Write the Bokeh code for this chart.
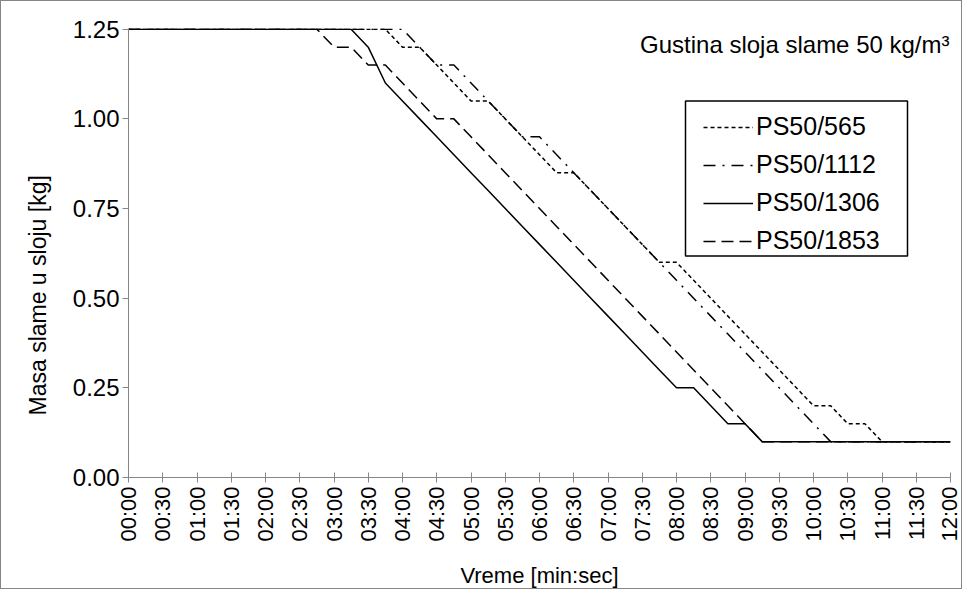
import math
from bokeh.plotting import figure
from bokeh.models import (FixedTicker, Legend, LegendItem, Label, NumeralTickFormatter,
                          Range1d, Title, BoxAnnotation)
from bokeh.embed import file_html
from bokeh.resources import INLINE

# time in seconds (every 15 s)
time_s = [0, 15, 30, 45, 60, 75, 90, 105, 120, 135, 150, 165, 180, 195, 210, 225,
          240, 255, 270, 285, 300, 315, 330, 345, 360, 375, 390, 405, 420, 435, 450,
          465, 480, 495, 510, 525, 540, 555, 570, 585, 600, 615, 630, 645, 660, 675,
          690, 705, 720]

ps50_565 = [1.25, 1.25, 1.25, 1.25, 1.25, 1.25, 1.25, 1.25, 1.25, 1.25, 1.25, 1.25,
            1.25, 1.25, 1.25, 1.25, 1.20, 1.20, 1.15, 1.10, 1.05, 1.05, 1.00, 0.95,
            0.90, 0.85, 0.85, 0.80, 0.75, 0.70, 0.65, 0.60, 0.60, 0.55, 0.50, 0.45,
            0.40, 0.35, 0.30, 0.25, 0.20, 0.20, 0.15, 0.15, 0.10, 0.10, 0.10, 0.10, 0.10]

ps50_1112 = [1.25, 1.25, 1.25, 1.25, 1.25, 1.25, 1.25, 1.25, 1.25, 1.25, 1.25, 1.25,
             1.25, 1.25, 1.25, 1.25, 1.25, 1.20, 1.15, 1.15, 1.10, 1.05, 1.00, 0.95,
             0.95, 0.90, 0.85, 0.80, 0.75, 0.70, 0.65, 0.60, 0.55, 0.50, 0.45, 0.40,
             0.35, 0.30, 0.25, 0.20, 0.15, 0.10, 0.10, 0.10, 0.10, 0.10, 0.10, 0.10, 0.10]

ps50_1306 = [1.25, 1.25, 1.25, 1.25, 1.25, 1.25, 1.25, 1.25, 1.25, 1.25, 1.25, 1.25,
             1.25, 1.25, 1.20, 1.10, 1.05, 1.00, 0.95, 0.90, 0.85, 0.80, 0.75, 0.70,
             0.65, 0.60, 0.55, 0.50, 0.45, 0.40, 0.35, 0.30, 0.25, 0.25, 0.20, 0.15,
             0.15, 0.10, 0.10, 0.10, 0.10, 0.10, 0.10, 0.10, 0.10, 0.10, 0.10, 0.10, 0.10]

ps50_1853 = [1.25, 1.25, 1.25, 1.25, 1.25, 1.25, 1.25, 1.25, 1.25, 1.25, 1.25, 1.25,
             1.20, 1.20, 1.15, 1.15, 1.10, 1.05, 1.00, 1.00, 0.95, 0.90, 0.85, 0.80,
             0.75, 0.70, 0.65, 0.60, 0.55, 0.50, 0.45, 0.40, 0.35, 0.30, 0.25, 0.20,
             0.15, 0.10, 0.10, 0.10, 0.10, 0.10, 0.10, 0.10, 0.10, 0.10, 0.10, 0.10, 0.10]

series_names = ["PS50/565", "PS50/1112", "PS50/1306", "PS50/1853"]

tick_seconds = [0, 30, 60, 90, 120, 150, 180, 210, 240, 270, 300, 330, 360, 390, 420,
                450, 480, 510, 540, 570, 600, 630, 660, 690, 720]
tick_labels = ["00:00", "00:30", "01:00", "01:30", "02:00", "02:30", "03:00", "03:30",
               "04:00", "04:30", "05:00", "05:30", "06:00", "06:30", "07:00", "07:30",
               "08:00", "08:30", "09:00", "09:30", "10:00", "10:30", "11:00", "11:30",
               "12:00"]
y_ticks = [0.0, 0.25, 0.50, 0.75, 1.00, 1.25]

title_text = "Gustina sloja slame 50 kg/m³"
x_title = "Vreme [min:sec]"
y_title = "Masa slame u sloju [kg]"

FONT = "Liberation Sans"
GRAY = "#868686"

p = figure(width=962, height=589, output_backend="svg", toolbar_location=None,
           x_range=Range1d(0, 720), y_range=Range1d(0, 1.252),
           min_border_left=127, min_border_right=13, min_border_top=27,
           min_border_bottom=113)
p.styles = {"border": "1px solid " + GRAY, "box-sizing": "border-box"}
p.xgrid.visible = False
p.ygrid.visible = False
p.outline_line_color = None
p.background_fill_color = "white"
p.border_fill_color = "white"

styles = [
    (ps50_565, "4 3"),
    (ps50_1112, "12 7 2 7"),
    (ps50_1306, "solid"),
    (ps50_1853, "12 6"),
]
renderers = []
for vals, dash in styles:
    r = p.line(time_s, vals, line_color="black", line_width=1.5, line_dash=dash)
    renderers.append(r)

# axes
p.xaxis.ticker = FixedTicker(ticks=tick_seconds)
p.xaxis.major_label_overrides = dict(zip(tick_seconds, tick_labels))
p.xaxis.major_label_orientation = math.pi / 2
p.yaxis.ticker = FixedTicker(ticks=y_ticks)
p.yaxis.formatter = NumeralTickFormatter(format="0.00")

for ax in (p.xaxis[0], p.yaxis[0]):
    ax.axis_line_color = GRAY
    ax.axis_line_width = 1
    ax.major_tick_line_color = GRAY
    ax.minor_tick_line_color = None
    ax.major_label_text_font = FONT
    ax.major_label_text_color = "black"
    ax.axis_label_text_font = FONT
    ax.axis_label_text_font_size = "22px"
    ax.axis_label_text_font_style = "normal"
    ax.axis_label_text_color = "black"

p.yaxis.major_label_text_font_size = "24px"
p.xaxis.major_label_text_font_size = "22px"

p.yaxis.major_tick_out = 6
p.yaxis.major_tick_in = 0
p.yaxis.major_label_standoff = 3

p.xaxis.major_tick_out = 5
p.xaxis.major_tick_in = 5
p.xaxis.major_label_standoff = 4
p.xaxis.axis_label = x_title
p.xaxis.axis_label_standoff = 18

# y-axis title (placed lower than the frame centre, as in the original)
p.add_layout(Title(text=y_title, align="left", offset=62, standoff=38,
                   text_font=FONT, text_font_size="23px", text_font_style="normal",
                   text_color="black"), "left")

# legend frame
p.add_layout(BoxAnnotation(left=557, right=779, bottom=221.6, top=376.6,
                           left_units="screen", right_units="screen",
                           bottom_units="screen", top_units="screen",
                           fill_color="white", fill_alpha=1,
                           line_color="black", line_width=1.5, line_alpha=1))

legend = Legend(
    items=[LegendItem(label=n, renderers=[r]) for n, r in zip(series_names, renderers)],
    location=(575, 221.6),
    border_line_color=None, background_fill_alpha=0,
    label_text_font=FONT, label_text_font_size="25px", label_text_color="black",
    glyph_width=50, glyph_height=28, label_height=28, spacing=9,
    padding=8, margin=0, label_standoff=3, label_width=130,
)
p.add_layout(legend)

p.add_layout(Label(x=720, y=1.25, text=title_text, text_align="right",
                   text_baseline="top", x_offset=-1, y_offset=-2,
                   text_font=FONT, text_font_size="24px", text_color="black"))

open("out.html", "w").write(file_html(p, INLINE))
